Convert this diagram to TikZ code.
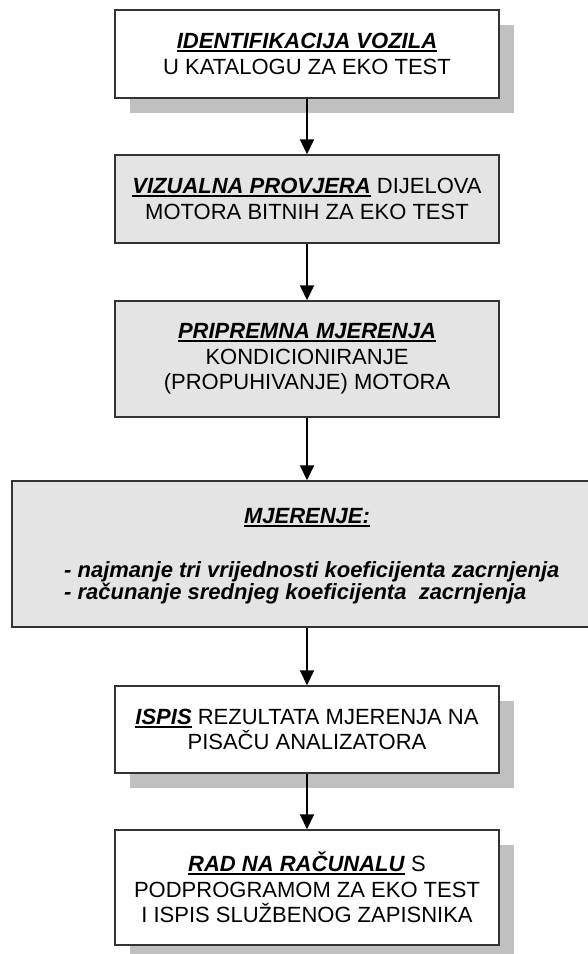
\documentclass[tikz,border=0pt]{standalone}
\usepackage{fontspec}
\setmainfont{Liberation Sans}
\usetikzlibrary{arrows.meta,shadows}
\definecolor{boxgray}{HTML}{E4E4E4}
\definecolor{shadowgray}{HTML}{C0C0C0}
\definecolor{bordergray}{HTML}{333333}
\newsavebox\ulbox
\newcommand\myul[1]{\sbox\ulbox{#1}\rlap{\rule[-3.5pt]{\wd\ulbox}{2pt}}\usebox\ulbox}
\newcommand\ttl[1]{\myul{\textbf{\textit{#1}}}}
\tikzset{
 box/.style={draw=bordergray, line width=1.5pt, rectangle, inner sep=0pt, align=center,
   font=\fontsize{22}{25.5}\selectfont},
 whitebox/.style={box, fill=white, drop shadow={shadow xshift=15pt, shadow yshift=-15pt, fill=shadowgray, opacity=1}},
 graybox/.style={box, fill=boxgray},
 flow/.style={-{Triangle[width=14pt,length=15pt]}, line width=2pt, draw=black},
 txt/.style={inner sep=0pt, font=\fontsize{22}{25.5}\selectfont}
}
\begin{document}
\begin{tikzpicture}[x=1pt,y=-1pt]
\clip (0,0) rectangle (588,954);
\fill[white] (0,0) rectangle (588,954);
\node[whitebox, minimum width=384pt, minimum height=88pt] (b1) at (307,54)
  {\ttl{IDENTIFIKACIJA VOZILA}\\U KATALOGU ZA EKO TEST};
\node[graybox, minimum width=384pt, minimum height=88pt] (b2) at (307,199)
  {\ttl{VIZUALNA PROVJERA} DIJELOVA\\MOTORA BITNIH ZA EKO TEST};
\node[graybox, minimum width=384pt, minimum height=116pt] (b3) at (307,359)
  {\ttl{PRIPREMNA MJERENJA}\\KONDICIONIRANJE\\(PROPUHIVANJE) MOTORA};
\node[graybox, minimum width=590pt, minimum height=146pt] (b4) at (307,554) {};
\node[txt, anchor=base] (b4t) at (307,523) {\ttl{MJERENJE:}};
\node[txt, anchor=north west, align=left, font=\fontsize{22}{22}\selectfont\bfseries\itshape] (b4l) at (64,561)
  {- najmanje tri vrijednosti koeficijenta zacrnjenja\\- računanje srednjeg koeficijenta\ \ zacrnjenja};
\node[whitebox, minimum width=384pt, minimum height=87pt] (b5) at (307,729.5)
  {\ttl{ISPIS} REZULTATA MJERENJA NA\\PISAČU ANALIZATORA};
\node[whitebox, minimum width=384pt, minimum height=115pt] (b6) at (307,887.5)
  {\ttl{RAD NA RAČUNALU} S\\PODPROGRAMOM ZA EKO TEST\\I ISPIS SLUŽBENOG ZAPISNIKA};
\draw[flow] (b1) -- (b2);
\draw[flow] (b2) -- (b3);
\draw[flow] (b3) -- (b4);
\draw[flow] (b4) -- (b5);
\draw[flow] (b5) -- (b6);
\end{tikzpicture}
\end{document}
